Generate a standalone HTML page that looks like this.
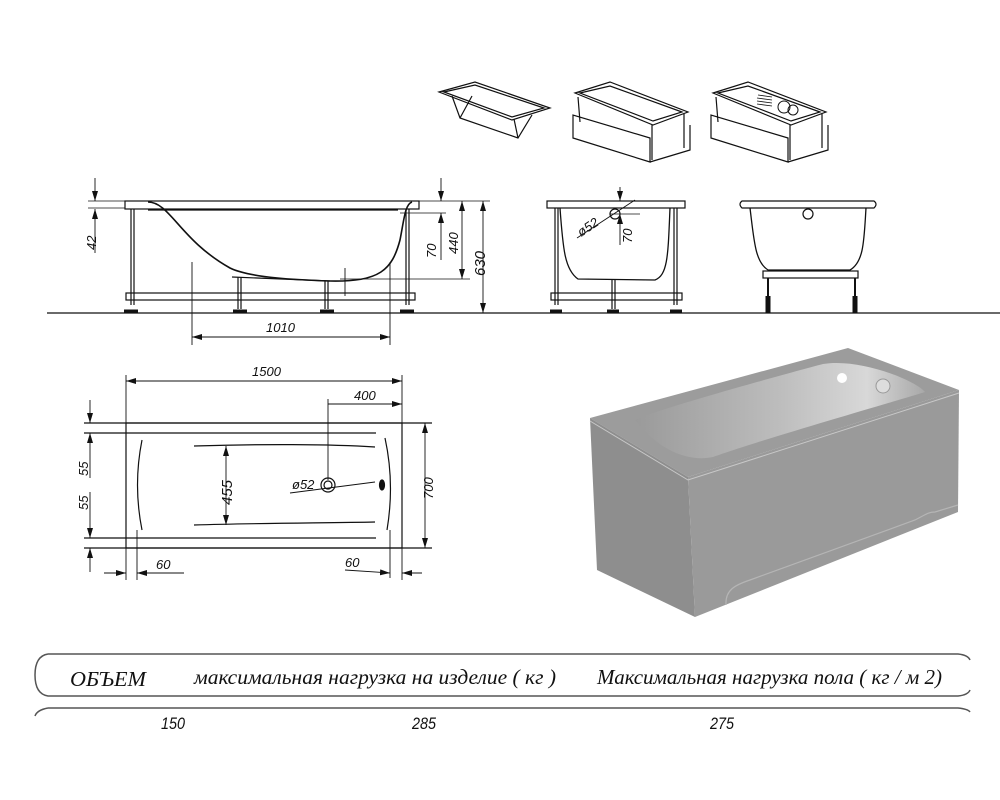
<!DOCTYPE html>
<html><head><meta charset="utf-8"><style>
html,body{margin:0;padding:0;background:#fff;width:1000px;height:800px;overflow:hidden}
svg text{font-family:"Liberation Sans",sans-serif;font-style:italic}
</style></head><body>
<svg width="1000" height="800" viewBox="0 0 1000 800" xmlns="http://www.w3.org/2000/svg">
<defs>
<marker id="a" viewBox="0 0 10 6" refX="10" refY="3" markerWidth="10" markerHeight="6" orient="auto-start-reverse" markerUnits="userSpaceOnUse"><path d="M0,0 L10,3 L0,6 z" fill="#111"/></marker>
<linearGradient id="inner" x1="0" y1="0" x2="1" y2="0"><stop offset="0" stop-color="#9a9a9a"/><stop offset="0.5" stop-color="#bdbdbd"/><stop offset="0.8" stop-color="#d8d8d8"/><stop offset="1" stop-color="#a8a8a8"/></linearGradient>
</defs>
<g fill="none" stroke="#111" stroke-width="1.2">
<path d="M439,92 L475,82 L550,108 L512,120 Z M444,92 L475,85 L544,108 L512,117 Z M452,96 L460,118 L518,138 L532,115 M460,118 L472,96 M518,138 L514,119"/>
<path d="M575,93 L610,82 L688,112 L653,125 Z M580,93 L610,86 L682,112 L653,121 Z M573,115 L573,138 L650,162 L650,138 Z M650,162 L690,150 L690,125 M578,97 L580,122 M684,114 L684,148 M652,125 L652,160"/>
<path d="M713,93 L748,82 L826,112 L791,125 Z M718,93 L748,86 L820,112 L791,121 Z M711,115 L711,138 L788,162 L788,138 Z M788,162 L828,150 L828,125 M716,97 L718,122 M822,114 L822,148 M790,125 L790,160"/>
<path d="M757,98 L772,100 M757,101 L772,103 M757,104 L772,106 M758,95 L772,97" stroke-width="0.8"/>
<circle cx="784" cy="107" r="6" stroke-width="1"/><circle cx="793" cy="110" r="5" stroke-width="1"/>
<line x1="47" y1="313" x2="1000" y2="313" stroke-width="1.3"/>
<rect x="125" y="201" width="294" height="8"/>
<line x1="148" y1="210" x2="398" y2="210"/>
<path d="M148,202 C170,202 180,240 230,268 C250,278 300,280 330,281 C380,282 392,270 400,240 C404,220 405,204 412,202" stroke-width="1.6"/>
<path d="M232,277 L330,281"/>
<line x1="131" y1="209" x2="131" y2="305"/><line x1="134" y1="209" x2="134" y2="305"/>
<line x1="406" y1="209" x2="406" y2="305"/><line x1="409" y1="209" x2="409" y2="305"/>
<rect x="126" y="293" width="289" height="7"/>
<path d="M238,277 v32 M241,277 v32 M325,281 v28 M328,281 v28"/>
<path d="M124,311 h14 M233,311 h14 M320,311 h14 M400,311 h14" stroke-width="3"/>
<line x1="192" y1="262" x2="192" y2="345" stroke-width="0.9"/><line x1="390" y1="262" x2="390" y2="345" stroke-width="0.9"/>
<line x1="192" y1="337" x2="390" y2="337" marker-start="url(#a)" marker-end="url(#a)" stroke-width="0.9"/>
<line x1="95" y1="178" x2="95" y2="201" marker-end="url(#a)" stroke-width="0.9"/>
<line x1="95" y1="253" x2="95" y2="209" marker-end="url(#a)" stroke-width="0.9"/>
<line x1="88" y1="201" x2="125" y2="201" stroke-width="0.8"/><line x1="88" y1="208" x2="125" y2="208" stroke-width="0.8"/>
<line x1="419" y1="201" x2="490" y2="201" stroke-width="0.8"/>
<line x1="400" y1="213" x2="446" y2="213" stroke-width="0.8"/>
<line x1="340" y1="279" x2="470" y2="279" stroke-width="0.8"/>
<line x1="441" y1="178" x2="441" y2="201" marker-end="url(#a)" stroke-width="0.9"/>
<line x1="441" y1="260" x2="441" y2="213" marker-end="url(#a)" stroke-width="0.9"/>
<line x1="462" y1="201" x2="462" y2="279" marker-start="url(#a)" marker-end="url(#a)" stroke-width="0.9"/>
<line x1="483" y1="201" x2="483" y2="313" marker-start="url(#a)" marker-end="url(#a)" stroke-width="0.9"/>
<line x1="345" y1="268" x2="345" y2="296" stroke-width="0.9"/>
<rect x="547" y="201" width="138" height="7"/>
<path d="M560,208 C563,250 565,270 578,279 L655,280 C668,275 668,255 670,208" stroke-width="1.3"/>
<path d="M555,208 v97 M558,208 v97 M674,208 v97 M677,208 v97"/>
<rect x="551" y="293" width="131" height="7"/>
<path d="M612,280 v29 M615,280 v29"/>
<path d="M550,311 h12 M607,311 h12 M670,311 h12" stroke-width="3"/>
<circle cx="615" cy="214" r="5"/>
<line x1="577" y1="238" x2="635" y2="200" stroke-width="0.9"/>
<line x1="620" y1="187" x2="620" y2="201" marker-end="url(#a)" stroke-width="0.9"/>
<line x1="620" y1="245" x2="620" y2="214" marker-end="url(#a)" stroke-width="0.9"/>
<line x1="610" y1="214" x2="640" y2="214" stroke-width="0.8"/>
<path d="M742,201 L874,201 Q878,204 874,208 L742,208 Q738,204 742,201 Z"/>
<path d="M750,208 C754,240 755,262 768,270 L850,270 C864,262 864,240 866,208" stroke-width="1.3"/>
<circle cx="808" cy="214" r="5"/>
<rect x="763" y="271" width="95" height="7"/>
<path d="M768,278 v35 M855,278 v35" stroke-width="2"/>
<path d="M768,296 v17 M855,296 v17" stroke-width="5"/>
<rect x="126" y="423" width="276" height="125"/>
<path d="M84,423 H432 M84,548 H432 M84,433 H376 M84,538 H376 M194,446 C260,444 330,444 375,447 M194,525 C260,523 330,523 375,522"/>
<path d="M142,440 C136,470 136,500 142,530 M385,438 C392,470 392,500 387,530"/>
<line x1="226" y1="446" x2="226" y2="525" marker-start="url(#a)" marker-end="url(#a)" stroke-width="0.9"/>
<circle cx="328" cy="485" r="7"/><circle cx="328" cy="485" r="4"/>
<line x1="290" y1="493" x2="375" y2="482" stroke-width="0.9"/>
<ellipse cx="382" cy="485" rx="2.5" ry="5" fill="#111"/>
<line x1="126" y1="375" x2="126" y2="580" stroke-width="0.9"/><line x1="402" y1="375" x2="402" y2="580" stroke-width="0.9"/>
<line x1="137" y1="530" x2="137" y2="580" stroke-width="0.9"/><line x1="390" y1="530" x2="390" y2="578" stroke-width="0.9"/>
<line x1="126" y1="381" x2="402" y2="381" marker-start="url(#a)" marker-end="url(#a)" stroke-width="0.9"/>
<line x1="328" y1="399" x2="328" y2="480" stroke-width="0.9"/>
<line x1="328" y1="404" x2="402" y2="404" marker-end="url(#a)" stroke-width="0.9"/>
<line x1="425" y1="423" x2="425" y2="548" marker-start="url(#a)" marker-end="url(#a)" stroke-width="0.9"/>
<line x1="90" y1="400" x2="90" y2="423" marker-end="url(#a)" stroke-width="0.9"/>
<line x1="90" y1="478" x2="90" y2="433" marker-end="url(#a)" stroke-width="0.9"/>
<line x1="90" y1="492" x2="90" y2="538" marker-end="url(#a)" stroke-width="0.9"/>
<line x1="90" y1="572" x2="90" y2="548" marker-end="url(#a)" stroke-width="0.9"/>
<line x1="104" y1="573" x2="126" y2="573" marker-end="url(#a)" stroke-width="0.9"/>
<line x1="184" y1="573" x2="137" y2="573" marker-end="url(#a)" stroke-width="0.9"/>
<line x1="345" y1="570" x2="390" y2="573" marker-end="url(#a)" stroke-width="0.9"/>
<line x1="422" y1="573" x2="402" y2="573" marker-end="url(#a)" stroke-width="0.9"/>
<path d="M48,654 H958 Q968,655 970,660 M48,654 Q35,656 35,675 Q35,694 48,696 H958 Q968,695 970,690" stroke="#555" stroke-width="1.5"/>
<path d="M48,708 H958 Q968,709 970,712 M48,708 Q37,710 35,716" stroke="#555" stroke-width="1.5"/>
</g>
<path d="M590,418 L848,348 L959,390 L688,477 Z" fill="#9c9c9c"/>
<path d="M635,420 C660,408 800,370 823,364 C860,358 915,380 925,392 C900,400 760,440 713,457 C690,462 660,452 635,420 Z" fill="url(#inner)"/>
<circle cx="842" cy="378" r="5" fill="#fff"/>
<circle cx="883" cy="386" r="7" fill="#ddd" stroke="#999"/>
<path d="M590,418 L688,477 L695,617 L597,570 Z" fill="#8e8e8e"/>
<path d="M688,477 L959,390 L958,512 L695,617 Z" fill="#9a9a9a"/>
<path d="M590,421 L688,480 L959,393" fill="none" stroke="#c8c8c8" stroke-width="1"/>
<path d="M726,605 C725,590 735,585 750,580 L915,520 C925,515 928,512 935,512 L958,505" fill="none" stroke="#b5b5b5" stroke-width="1.2"/>
<g font-size="13" fill="#111">
<text x="266" y="332">1010</text>
<text x="252" y="376">1500</text>
<text x="354" y="400">400</text>
<text x="292" y="489">ø52</text>
<text x="156" y="569">60</text>
<text x="345" y="567">60</text>
<text transform="translate(96,250) rotate(-90)">42</text>
<text transform="translate(436,258) rotate(-90)">70</text>
<text transform="translate(458,254) rotate(-90)">440</text>
<text transform="translate(485,276) rotate(-90)" font-size="15">630</text>
<text transform="translate(632,243) rotate(-90)">70</text>
<text transform="translate(581,237) rotate(-34)">ø52</text>
<text transform="translate(232,505) rotate(-90)" font-size="15">455</text>
<text transform="translate(433,499) rotate(-90)">700</text>
<text transform="translate(88,476) rotate(-90)">55</text>
<text transform="translate(88,510) rotate(-90)">55</text>
</g>
<g font-style="italic" font-size="21" fill="#111">
<text x="70" y="686" style="font-family:'Liberation Serif',serif" textLength="76" lengthAdjust="spacingAndGlyphs">ОБЪЕМ</text>
<text x="194" y="684" style="font-family:'Liberation Serif',serif" textLength="362" lengthAdjust="spacingAndGlyphs">максимальная нагрузка на изделие ( кг )</text>
<text x="597" y="684" style="font-family:'Liberation Serif',serif" textLength="345" lengthAdjust="spacingAndGlyphs">Максимальная нагрузка пола ( кг / м 2)</text>
</g>
<g font-size="17" fill="#111">
<text x="161" y="729" textLength="24" lengthAdjust="spacingAndGlyphs">150</text>
<text x="412" y="729" textLength="24" lengthAdjust="spacingAndGlyphs">285</text>
<text x="710" y="729" textLength="24" lengthAdjust="spacingAndGlyphs">275</text>
</g>
</svg>
</body></html>
